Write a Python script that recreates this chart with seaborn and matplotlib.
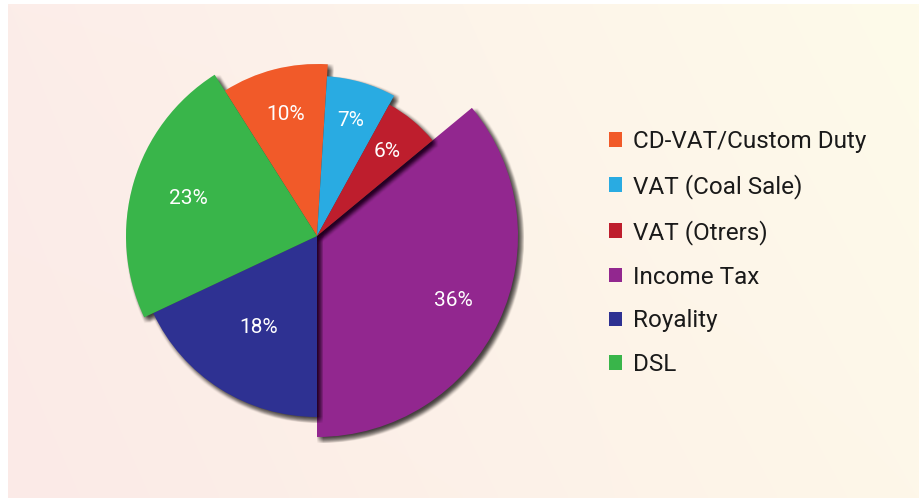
import numpy as np
import matplotlib
matplotlib.use("Agg")
import matplotlib.pyplot as plt
from matplotlib.colors import to_rgb
from matplotlib.patches import Wedge
import seaborn as sns

# revenue shares (%)
categories = ["CD-VAT/Custom Duty", "VAT (Coal Sale)", "VAT (Otrers)",
              "Income Tax", "Royality", "DSL"]
shares = [10, 7, 6, 36, 18, 23]
colors = ["#F15A29", "#29ABE2", "#BE1E2D", "#92278F", "#2E3192", "#39B54A"]

# styling: each slice has its own radius (px) and label distance
radii = [172, 160, 150, 201, 181, 191]
label_frac = [0.73, 0.75, 0.73, 0.75, 0.60, 0.70]

sns.set_theme(style="white")
plt.rcParams["font.family"] = ["Roboto", "DejaVu Sans"]

W, H = 919, 500
fig = plt.figure(figsize=(W / 100, H / 100), dpi=100)
fig.patch.set_facecolor("white")

# soft pink -> cream background panel
bg = fig.add_axes([8 / W, 2 / H, (W - 8) / W, (H - 6) / H])
tl, tr = np.array(to_rgb("#FCEDE9")), np.array(to_rgb("#FEFBEA"))
bl, br = np.array(to_rgb("#FBEAE7")), np.array(to_rgb("#FEF7E9"))
gx, gy = np.meshgrid(np.linspace(0, 1, 200), np.linspace(0, 1, 100))
grad = ((1 - gx)[..., None] * ((1 - gy)[..., None] * tl + gy[..., None] * bl)
        + gx[..., None] * ((1 - gy)[..., None] * tr + gy[..., None] * br))
bg.imshow(grad, aspect="auto", interpolation="bilinear")
bg.axis("off")

ax = fig.add_axes([0, 0, 1, 1], zorder=2)
ax.patch.set_alpha(0)
cx, cy = 317, 264
wedges, _ = ax.pie(shares, colors=colors, startangle=122.4, counterclock=False,
                   center=(cx, cy), radius=1, wedgeprops=dict(linewidth=0))
ax.set_xlim(0, W)
ax.set_ylim(0, H)
ax.set_aspect("equal")
ax.axis("off")


def add_shadow(wedge, z):
    x0, y0 = wedge.center
    for dx in range(-3, 4):
        for dy in range(-3, 4):
            ax.add_patch(Wedge((x0 + 3 + dx, y0 - 3 + dy), wedge.r,
                               wedge.theta1, wedge.theta2, facecolor="black",
                               alpha=0.025, lw=0, zorder=z))


big = int(np.argmax(shares))
for i, (w, r) in enumerate(zip(wedges, radii)):
    w.set_radius(r)
    w.set_zorder(2 if i == big else 4)
    add_shadow(w, 1 if i == big else 3)
    mid = np.deg2rad((w.theta1 + w.theta2) / 2)
    d = label_frac[i] * r
    ax.text(cx + d * np.cos(mid), cy + d * np.sin(mid), f"{shares[i]}%",
            color="white", fontsize=15, ha="center", va="center", zorder=6)

fig.legend(wedges, categories, loc="upper left",
           bbox_to_anchor=(609 / W, 1 - 130 / H), frameon=False, fontsize=17.5,
           handlelength=0.55, handleheight=0.55, handletextpad=0.42,
           labelspacing=0.86, borderpad=0, borderaxespad=0, labelcolor="#1A1A1A")

fig.savefig("out.png", dpi=100)
